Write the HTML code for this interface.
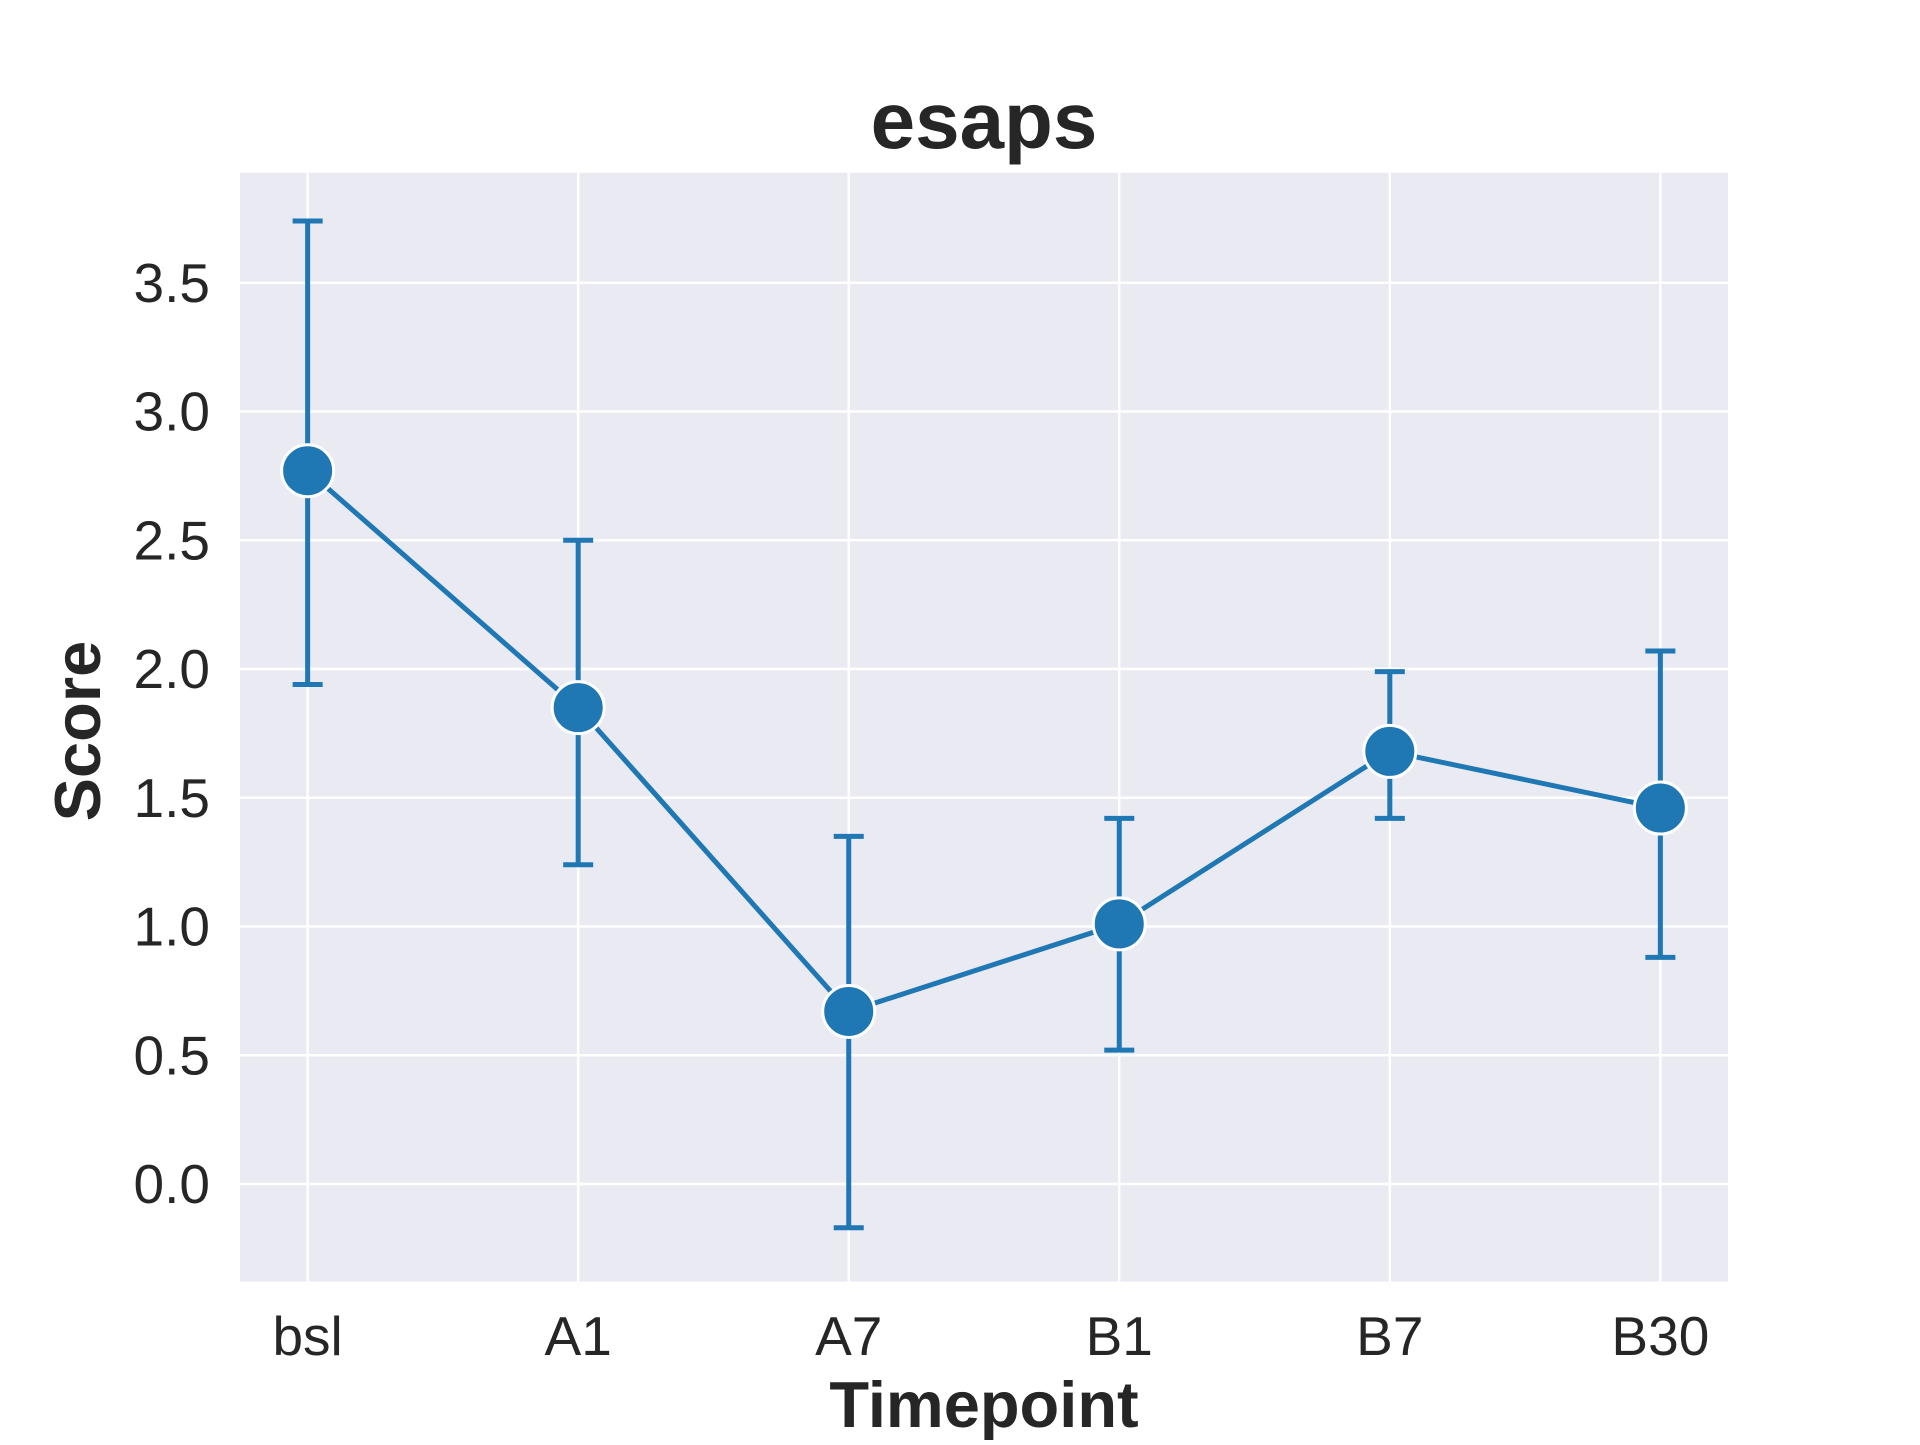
<!DOCTYPE html>
<html><head><meta charset="utf-8"><style>
html,body{margin:0;padding:0;background:#fff;}
svg text{font-family:"Liberation Sans",Arial,sans-serif;fill:#262626;}
</style></head><body>
<svg id="chart" width="1920" height="1440" xmlns="http://www.w3.org/2000/svg">
<rect x="240" y="172.8" width="1488" height="1108.8" fill="#eaeaf2"/>
<g id="grid"></g>
<g id="series"></g>
<g id="ticks"></g>
<text x="984" y="148" font-size="80" font-weight="bold" text-anchor="middle">esaps</text>
<text x="984" y="1427" font-size="65" font-weight="bold" text-anchor="middle">Timepoint</text>
<text transform="translate(100,731) rotate(-90)" font-size="65" font-weight="bold" text-anchor="middle">Score</text>
</svg>
<script>
const categories = ["bsl","A1","A7","B1","B7","B30"];
const means = [2.77,1.85,0.67,1.01,1.68,1.46];
const lower = [1.94,1.24,-0.17,0.52,1.42,0.88];
const upper = [3.74,2.50,1.35,1.42,1.99,2.07];
const yTicks = [0.0,0.5,1.0,1.5,2.0,2.5,3.0,3.5];
const NS="http://www.w3.org/2000/svg";
const L=240,R=1728,T=172.8,B=1281.6;
const xMin=-0.25,xMax=categories.length-0.75,yMin=-0.379,yMax=3.927;
const xs=i=>L+(i-xMin)/(xMax-xMin)*(R-L);
const ys=v=>B-(v-yMin)/(yMax-yMin)*(B-T);
function mk(tag,attrs,parent){const e=document.createElementNS(NS,tag);for(const k in attrs)e.setAttribute(k,attrs[k]);document.getElementById(parent).appendChild(e);return e;}
yTicks.forEach(v=>{
  const g=mk('line',{x1:L,x2:R,y1:ys(v),y2:ys(v),stroke:'#fff','stroke-width':2.5},'grid');
  
  
  const t=mk('text',{x:210,y:ys(v)+19,'font-size':55,'text-anchor':'end'},'ticks');
  t.textContent=v.toFixed(1);
  
  
});
categories.forEach((c,i)=>{
  const g=mk('line',{x1:xs(i),x2:xs(i),y1:T,y2:B,stroke:'#fff','stroke-width':2.5},'grid');
  
  
  const t=mk('text',{x:xs(i),y:1355,'font-size':55,'text-anchor':'middle'},'ticks');
  t.textContent=c;
  
  
});
const pts=means.map((m,i)=>xs(i)+','+ys(m)).join(' ');
const pl=mk('polyline',{points:pts,fill:'none',stroke:'#1f77b4','stroke-width':5},'series');


categories.forEach((c,i)=>{
  const x=xs(i),y1=ys(lower[i]),y2=ys(upper[i]);
  const e=mk('path',{d:`M${x},${y1}V${y2}M${x-15},${y1}H${x+15}M${x-15},${y2}H${x+15}`,stroke:'#1f77b4','stroke-width':5,fill:'none'},'series');
  
  
});
categories.forEach((c,i)=>{
  const p=mk('circle',{cx:xs(i),cy:ys(means[i]),r:26,fill:'#1f77b4',stroke:'#fff','stroke-width':3},'series');
  
  
});
</script>
</body></html>
